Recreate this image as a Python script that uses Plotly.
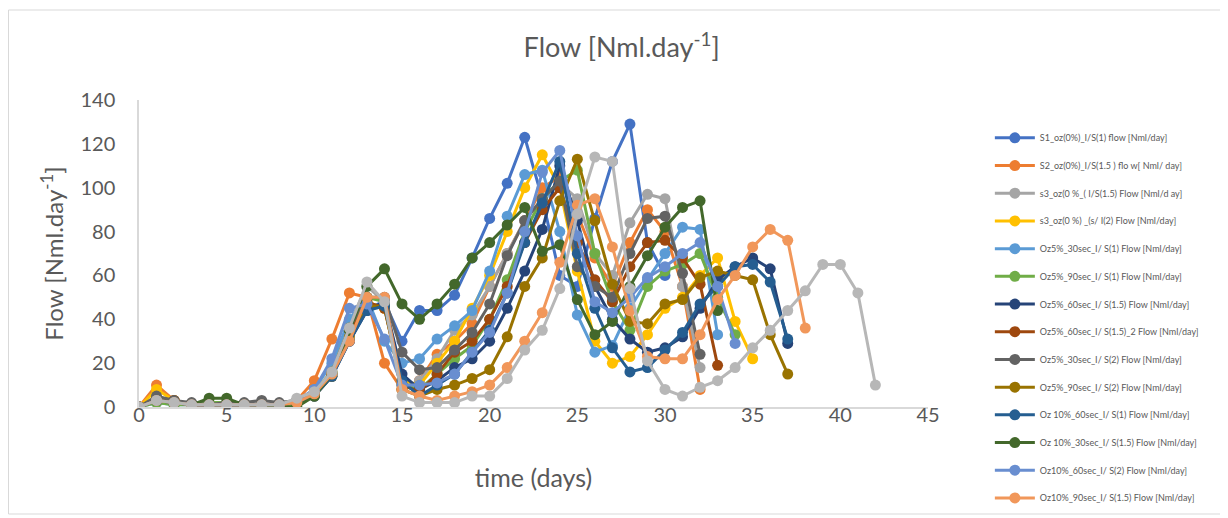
import plotly.graph_objects as go

# ---- data (Flow in Nml/day per day) ----
names = [
    "S1_oz(0%)_I/S(1) flow [Nml/day]",
    "S2_oz(0%)_I/S(1.5 ) flo w[ Nml/ day]",
    "s3_oz(0 %_( I/S(1.5) Flow [Nml/d ay]",
    "s3_oz(0 %) _(s/ I(2) Flow [Nml/day]",
    "Oz5%_30sec_I/ S(1) Flow [Nml/day]",
    "Oz5%_90sec_I/ S(1) Flow [Nml/day]",
    "Oz5%_60sec_I/ S(1.5) Flow [Nml/day]",
    "Oz5%_60sec_I/ S(1.5)_2 Flow [Nml/day]",
    "Oz5%_30sec_I/ S(2) Flow [Nml/day]",
    "Oz5%_90sec_I/ S(2) Flow [Nml/day]",
    "Oz 10%_60sec_I/ S(1) Flow [Nml/day]",
    "Oz 10%_30sec_I/ S(1.5) Flow [Nml/day]",
    "Oz10%_60sec_I/ S(2) Flow [Nml/day]",
    "Oz10%_90sec_I/ S(1.5) Flow [Nml/day]",
    "Oz10%_90sec_I/ S(2) Flow [Nml/day]",
]
colors = ["#4472C4", "#ED7D31", "#A5A5A5", "#FFC000", "#5B9BD5", "#70AD47",
          "#264478", "#9E480E", "#636363", "#997300", "#255E91", "#43682B",
          "#698ED0", "#F1975A", "#B7B7B7"]
show_in_legend = [True] * 14 + [False]

s1 = [0, 3, 2, 1, 1, 1, 1, 1, 1, 2, 8, 15, 30, 45, 48, 30, 44, 44, 51, 68, 86, 102, 123,
      95, 60, 55, 86, 112, 129, 75, 60]
s2 = [0, 10, 3, 1, 1, 1, 1, 1, 1, 3, 12, 31, 52, 50, 20, 8, 12, 24, 30, 38, 55, 70, 85,
      100, 105, 88, 68, 55, 75, 90, 80, 55, 8]
s3a = [0, 3, 2, 1, 1, 1, 1, 1, 1, 3, 6, 17, 38, 55, 48, 8, 12, 22, 35, 42, 55, 70, 85,
       95, 102, 95, 70, 60, 84, 97, 95, 55, 18]
s3b = [0, 8, 3, 1, 1, 1, 1, 1, 1, 3, 7, 16, 35, 48, 45, 12, 10, 20, 30, 45, 60, 80, 100,
       115, 100, 62, 30, 20, 23, 33, 45, 50, 60, 68, 39, 22]
oz5_30_1 = [0, 2, 1, 1, 1, 1, 1, 1, 1, 2, 8, 20, 40, 50, 30, 20, 22, 31, 37, 44, 62, 87,
            106, 108, 80, 42, 25, 28, 45, 58, 70, 82, 81, 33]
oz5_90_1 = [0, 2, 1, 1, 2, 2, 1, 1, 0, 1, 6, 16, 36, 50, 48, 10, 8, 15, 22, 28, 40, 58,
            80, 95, 103, 108, 70, 48, 35, 55, 62, 65, 70, 50, 33]
oz5_60_15 = [0, 3, 2, 1, 1, 1, 1, 1, 1, 2, 5, 14, 30, 44, 48, 15, 8, 12, 18, 22, 30, 45,
             62, 81, 110, 85, 55, 40, 31, 25, 27, 32, 45, 58, 64, 68, 63, 29]
oz5_60_15_2 = [0, 4, 3, 1, 1, 1, 1, 1, 1, 2, 6, 15, 35, 48, 45, 10, 7, 15, 25, 30, 40,
               55, 75, 90, 100, 75, 58, 48, 64, 75, 76, 68, 56, 19]
oz5_30_2 = [0, 5, 3, 2, 1, 2, 2, 3, 2, 3, 6, 16, 36, 50, 50, 25, 17, 18, 26, 34, 47, 69,
            85, 95, 103, 64, 55, 50, 70, 86, 87, 61, 24]
oz5_90_2 = [0, 3, 2, 1, 1, 1, 1, 1, 1, 2, 5, 14, 32, 46, 46, 8, 5, 8, 10, 13, 17, 32, 55,
            68, 94, 113, 85, 56, 39, 38, 47, 49, 59, 62, 60, 58, 33, 15]
oz10_60_1 = [0, 3, 2, 1, 1, 1, 1, 1, 1, 2, 5, 14, 30, 44, 46, 12, 5, 10, 15, 25, 35, 52,
             75, 93, 112, 70, 45, 27, 16, 18, 26, 34, 47, 55, 64, 65, 57, 31]
oz10_30_15 = [0, 3, 2, 1, 4, 4, 1, 1, 0, 0, 5, 15, 35, 55, 63, 47, 40, 47, 56, 68, 75,
              83, 91, 71, 74, 49, 33, 39, 55, 69, 82, 91, 94, 44]
oz10_60_2 = [0, 3, 2, 1, 1, 1, 1, 1, 1, 3, 8, 22, 45, 47, 31, 10, 10, 11, 15, 25, 34, 52,
             80, 107, 117, 78, 48, 43, 50, 59, 64, 70, 75, 55, 29]
oz10_90_15 = [0, 3, 2, 1, 1, 1, 1, 1, 1, 2, 6, 15, 30, 50, 50, 8, 5, 3, 5, 7, 10, 18, 30,
              43, 66, 92, 95, 73, 44, 23, 22, 22, 33, 49, 60, 73, 81, 76, 36]
oz10_90_2 = [0, 3, 2, 1, 1, 1, 1, 1, 1, 4, 7, 16, 36, 57, 48, 5, 2, 2, 2, 5, 5, 13, 26,
             35, 54, 88, 114, 112, 54, 21, 8, 5, 9, 12, 18, 27, 35, 44, 53, 65, 65, 52, 10]

series = [s1, s2, s3a, s3b, oz5_30_1, oz5_90_1, oz5_60_15, oz5_60_15_2, oz5_30_2,
          oz5_90_2, oz10_60_1, oz10_30_15, oz10_60_2, oz10_90_15, oz10_90_2]

x_ticks = [0, 5, 10, 15, 20, 25, 30, 35, 40, 45]
y_ticks = [0, 20, 40, 60, 80, 100, 120, 140]

FONT = "Lato, 'Open Sans', sans-serif"
TXT = "#595959"

W, H = 1220, 510
L, T, PW, PH = 131, 92, 789, 307

fig = go.Figure()
for i, (nm, vals, col) in enumerate(zip(names, series, colors)):
    fig.add_trace(go.Scatter(
        x=list(range(len(vals))), y=vals, name=nm, mode="lines+markers",
        line=dict(color=col, width=3),
        marker=dict(color=col, size=11),
        showlegend=show_in_legend[i], legendgroup=f"g{i}",
    ))

fig.update_layout(
    width=W, height=H,
    margin=dict(l=L, r=W - L - PW, t=T, b=H - T - PH, autoexpand=False),
    paper_bgcolor="white", plot_bgcolor="white",
    font=dict(family=FONT, color=TXT),
    title=dict(text="Flow [Nml.day<sup>-1</sup>]", x=0.503, xref="container",
               y=1 - 40 / H, yref="container", xanchor="center", yanchor="middle",
               font=dict(size=27, color=TXT, family=FONT)),
    legend=dict(x=1.0784, y=0.924, xanchor="left", yanchor="top",
                font=dict(size=9, color=TXT, family=FONT),
                tracegroupgap=8.7, itemwidth=40, bgcolor="rgba(0,0,0,0)",
                maxheight=470),
    showlegend=True,
)
fig.update_xaxes(
    range=[0, 45], tickvals=x_ticks, ticktext=[str(v) for v in x_ticks],
    showgrid=False, zeroline=False, showline=True, linecolor="#D9D9D9", linewidth=1.5,
    ticks="", tickfont=dict(size=20, color=TXT, family=FONT), automargin=False,
    ticklabelstandoff=-11,
    title=dict(text="time (days)", font=dict(size=25, color=TXT, family=FONT), standoff=45),
)
fig.update_yaxes(
    range=[0, 140], tickvals=y_ticks, ticktext=[str(v) for v in y_ticks],
    showgrid=False, zeroline=False, showline=True, linecolor="#D9D9D9", linewidth=1.5,
    ticks="", tickfont=dict(size=20, color=TXT, family=FONT), automargin=False,
    ticklabelstandoff=18,
    title=dict(text="Flow [Nml.day<sup>-1</sup>]", font=dict(size=24, color=TXT, family=FONT),
               standoff=10),
)
fig.add_shape(type="rect", xref="paper", yref="paper",
              x0=(0.5 - L) / PW, x1=(1218 - L) / PW,
              y0=(T + PH - 506) / PH, y1=(T + PH - 2) / PH,
              line=dict(color="#D9D9D9", width=1), fillcolor="rgba(0,0,0,0)", layer="below")

fig.write_html("out.html")
